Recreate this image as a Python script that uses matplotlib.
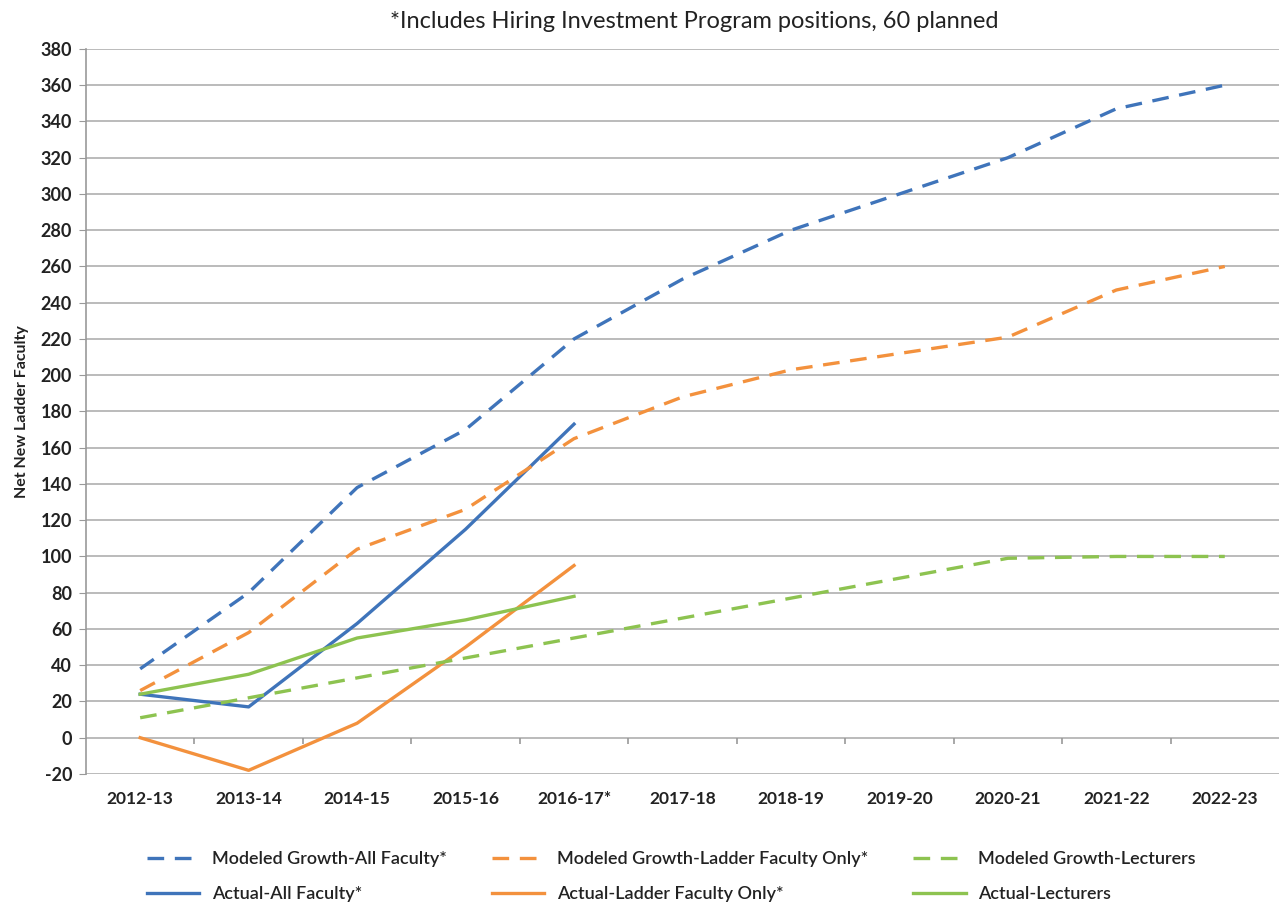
import matplotlib
matplotlib.use("Agg")
import matplotlib.pyplot as plt

plt.rcParams['font.family'] = ['Lato', 'DejaVu Sans']
plt.rcParams['axes.unicode_minus'] = False

years = ['2012-13', '2013-14', '2014-15', '2015-16', '2016-17*', '2017-18',
         '2018-19', '2019-20', '2020-21', '2021-22', '2022-23']

modeled_all = [38, 80, 138, 170, 220, 253, 280, 300, 320, 347, 360]
modeled_ladder = [26, 58, 104, 126, 165, 188, 203, 212, 221, 247, 260]
modeled_lect = [11, 22, 33, 44, 55, 66, 77, 88, 99, 100, 100]

actual_all = [24, 17, 63, 115, 173]
actual_ladder = [0, -18, 8, 50, 95]
actual_lect = [24, 35, 55, 65, 78]

blue = '#3F74BA'
orange = '#F3913D'
green = '#8DC350'

fig = plt.figure(figsize=(12.79, 9.05), dpi=100)
ax = fig.add_axes([0.0672, 0.1448, 0.9328, 0.8011])

x = list(range(len(years)))
xa = x[:len(actual_all)]
lw = 2.4
dash = (5, 3.2)

ax.plot(x, modeled_all, color=blue, lw=lw, dashes=dash, label='Modeled Growth-All Faculty*')
ax.plot(xa, actual_all, color=blue, lw=lw, label='Actual-All Faculty*')
ax.plot(x, modeled_ladder, color=orange, lw=lw, dashes=dash, label='Modeled Growth-Ladder Faculty Only*')
ax.plot(xa, actual_ladder, color=orange, lw=lw, label='Actual-Ladder Faculty Only*')
ax.plot(x, modeled_lect, color=green, lw=lw, dashes=dash, label='Modeled Growth-Lecturers')
ax.plot(xa, actual_lect, color=green, lw=lw, label='Actual-Lecturers')

ax.set_xlim(-0.5, len(years) - 0.5)
ax.set_ylim(-20, 380)
ax.set_yticks(range(-20, 381, 20))
ax.set_xticks(x)
ax.set_xticklabels(years)
ax.grid(axis='y', color='#BBBBBB', lw=1.4)
ax.set_axisbelow(True)
for s in ['top', 'right', 'bottom']:
    ax.spines[s].set_visible(False)
ax.spines['left'].set_color('#999999')
ax.spines['left'].set_linewidth(1.2)
ax.tick_params(axis='y', length=5, color='#999999', labelsize=13, pad=5)
ax.tick_params(axis='x', length=0, labelsize=12.5, pad=12)
for lab in ax.get_xticklabels() + ax.get_yticklabels():
    lab.set_fontweight('bold')
    lab.set_color('#222222')

# category separators hanging below the zero line
ax.vlines([i + 0.5 for i in x[:-1]], -3.5, 0, color='#999999', lw=1.2)

ax.set_ylabel('Net New Ladder Faculty', fontsize=11.5, fontweight='bold',
              color='#222222', labelpad=8)
fig.text(0.543, 0.976, '*Includes Hiring Investment Program positions, 60 planned',
         ha='center', va='center', fontsize=17, color='#222222')

leg = fig.legend(loc='lower center', ncol=3, bbox_to_anchor=(0.525, -0.015), frameon=False,
                 prop={'size': 13, 'weight': 'semibold'}, handlelength=2.9,
                 handletextpad=0.7, columnspacing=2.5, labelspacing=1.05)
for t in leg.get_texts():
    t.set_color('#222222')

fig.savefig('out.png', dpi=100, facecolor='white')
